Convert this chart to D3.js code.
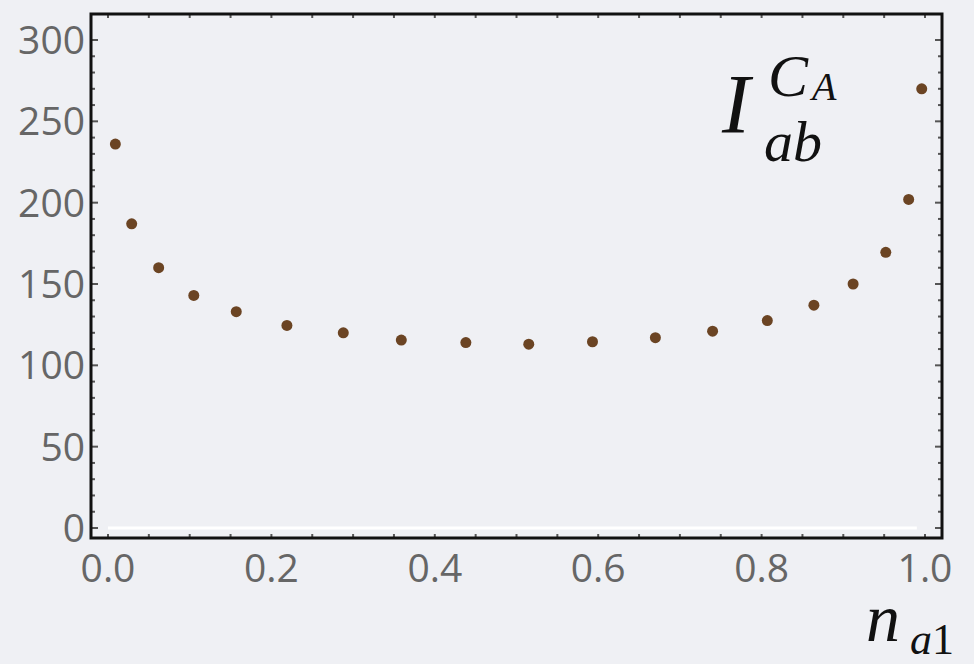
<!DOCTYPE html>
<html>
<head>
<meta charset="utf-8">
<script src="https://cdn.jsdelivr.net/npm/d3@7"></script>
<style>
  body { margin: 0; background: #eff0f4; }
  svg { display: block; }
</style>
</head>
<body>
<div id="chart"></div>
<script>
// data
const nA1 = [0.009, 0.029, 0.062, 0.105, 0.157, 0.219, 0.288, 0.359, 0.438, 0.515,
             0.593, 0.670, 0.740, 0.807, 0.864, 0.912, 0.952, 0.980, 0.996];
const iAB = [236, 187, 160, 143, 133, 124.5, 120, 115.5, 114, 113,
             114.5, 117, 121, 127.5, 137, 150, 169.5, 202, 270];
const xTicks = [0, 0.2, 0.4, 0.6, 0.8, 1.0];
const yTicks = [0, 50, 100, 150, 200, 250, 300];

const W = 974, H = 664;
const frame = {left: 91, right: 942, top: 14, bottom: 538};

const svg = d3.select("#chart")
    .append("svg")
    .attr("width", W)
    .attr("height", H);

const xScale = d3.scaleLinear().domain([0, 1]).range([108, 925]);
const yScale = d3.scaleLinear().domain([0, 300]).range([528, 40]);

// white zero line
svg.append("line")
    .attr("x1", xScale(0)).attr("x2", xScale(0.99))
    .attr("y1", yScale(0)).attr("y2", yScale(0))
    .attr("stroke", "#ffffff")
    .attr("stroke-width", 3);

// minor / major ticks, drawn inward on all four sides
const xMinor = d3.range(0, 1.0001, 0.05);
const yMinor = d3.range(0, 310, 10);
const tickColor = "#555";

const ticks = svg.append("g").attr("stroke", tickColor).attr("stroke-width", 2);
xMinor.forEach(v => {
    const len = 4;
    ticks.append("line").attr("x1", xScale(v)).attr("x2", xScale(v))
        .attr("y1", frame.bottom).attr("y2", frame.bottom - len);
    ticks.append("line").attr("x1", xScale(v)).attr("x2", xScale(v))
        .attr("y1", frame.top).attr("y2", frame.top + len);
});
yMinor.forEach(v => {
    const len = v % 50 === 0 ? 7 : 4;
    ticks.append("line").attr("x1", frame.left).attr("x2", frame.left + len)
        .attr("y1", yScale(v)).attr("y2", yScale(v));
    ticks.append("line").attr("x1", frame.right).attr("x2", frame.right - len)
        .attr("y1", yScale(v)).attr("y2", yScale(v));
});

// frame
svg.append("rect")
    .attr("x", frame.left).attr("y", frame.top)
    .attr("width", frame.right - frame.left)
    .attr("height", frame.bottom - frame.top)
    .attr("fill", "none")
    .attr("stroke", "#111")
    .attr("stroke-width", 3);

// tick labels
svg.append("g").selectAll("text")
    .data(yTicks)
    .join("text")
    .attr("x", 85)
    .attr("y", d => yScale(d))
    .attr("dy", "0.36em")
    .attr("text-anchor", "end")
    .attr("font-family", "Open Sans, sans-serif")
    .attr("font-size", 39)
    .attr("fill", "#666")
    .text(d => d);

svg.append("g").selectAll("text")
    .data(xTicks)
    .join("text")
    .attr("x", d => xScale(d))
    .attr("y", 582)
    .attr("text-anchor", "middle")
    .attr("font-family", "Open Sans, sans-serif")
    .attr("font-size", 39)
    .attr("fill", "#666")
    .text(d => d3.format(".1f")(d));

// points
svg.append("g").selectAll("circle")
    .data(nA1.map((x, i) => ({x: x, y: iAB[i]})))
    .join("circle")
    .attr("cx", d => xScale(d.x))
    .attr("cy", d => yScale(d.y))
    .attr("r", 5.5)
    .attr("fill", "#6b4423");

// I_ab^{C_A}
const lab = svg.append("text")
    .attr("font-family", "Liberation Serif, serif")
    .attr("font-style", "italic")
    .attr("fill", "#111");
lab.append("tspan").attr("x", 722).attr("y", 133).attr("font-size", 84).text("I");
lab.append("tspan").attr("x", 764).attr("y", 161).attr("font-size", 58).text("ab");
lab.append("tspan").attr("x", 768).attr("y", 96).attr("font-size", 60).text("C");
lab.append("tspan").attr("x", 812).attr("y", 100).attr("font-size", 40).text("A");

// n_a1
const xl = svg.append("text")
    .attr("font-family", "Liberation Serif, serif")
    .attr("font-style", "italic")
    .attr("fill", "#111");
xl.append("tspan").attr("x", 866).attr("y", 641).attr("font-size", 68).text("n");
xl.append("tspan").attr("x", 910).attr("y", 654).attr("font-size", 44).text("a");
xl.append("tspan").attr("font-style", "normal").attr("font-size", 44).text("1");
</script>
</body>
</html>
